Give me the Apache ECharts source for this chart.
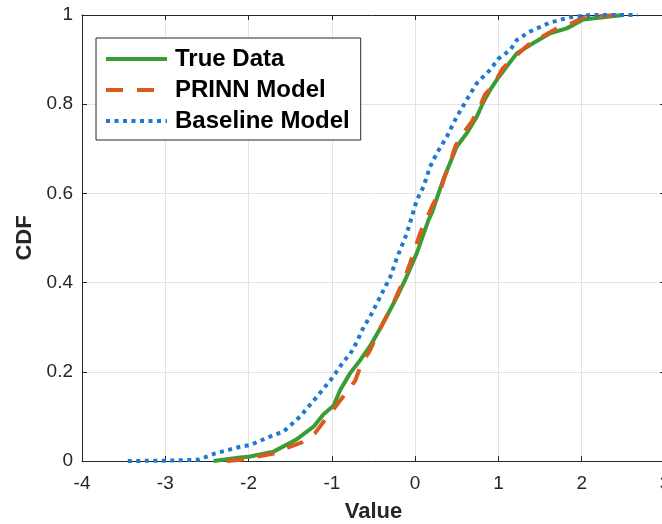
<!DOCTYPE html>
<html>
<head>
<meta charset="utf-8">
<script src="https://cdn.jsdelivr.net/npm/echarts@6/dist/echarts.min.js"></script>
<style>html,body{margin:0;padding:0;background:#fff;}#c{width:662px;height:524px;}</style>
</head>
<body>
<div id="c"></div>
<script>
const seriesNames = ['True Data', 'PRINN Model', 'Baseline Model'];
const xTicks = [-4, -3, -2, -1, 0, 1, 2, 3];
const yTicks = [0, 0.2, 0.4, 0.6, 0.8, 1];

const trueX = [-2.42,-2.10,-1.98,-1.70,-1.42,-1.22,-1.10,-0.98,-0.90,-0.78,-0.66,-0.54,-0.42,-0.30,-0.20,-0.12,0.02,0.16,0.20,0.34,0.50,0.62,0.74,0.82,0.90,1.00,1.22,1.40,1.62,1.82,2.02,2.50];
const trueY = [0,0.008,0.01,0.021,0.049,0.077,0.105,0.124,0.159,0.197,0.226,0.258,0.297,0.339,0.375,0.406,0.466,0.540,0.556,0.632,0.705,0.735,0.772,0.805,0.832,0.860,0.914,0.935,0.959,0.970,0.990,1.0];

const prinnX = [-2.26,-2.08,-1.89,-1.71,-1.53,-1.36,-1.20,-1.10,-0.99,-0.82,-0.72,-0.64,-0.55,-0.45,-0.36,-0.28,-0.20,-0.12,-0.06,0.00,0.06,0.13,0.21,0.30,0.36,0.42,0.48,0.56,0.68,0.76,0.84,0.92,0.96,1.05,1.16,1.38,1.52,1.70,1.84,2.04,2.22,2.45];
const prinnY = [0,0.003,0.010,0.016,0.030,0.042,0.063,0.088,0.114,0.155,0.180,0.220,0.245,0.286,0.318,0.346,0.380,0.413,0.444,0.477,0.511,0.540,0.574,0.604,0.640,0.668,0.705,0.731,0.761,0.787,0.822,0.838,0.850,0.880,0.900,0.937,0.951,0.970,0.978,0.996,0.998,1.0];

const baseX = [-3.45,-2.90,-2.60,-2.40,-2.10,-1.98,-1.70,-1.58,-1.38,-1.18,-1.00,-0.86,-0.78,-0.70,-0.62,-0.54,-0.48,-0.38,-0.30,-0.22,-0.10,0.02,0.10,0.18,0.26,0.38,0.50,0.62,0.74,0.90,1.00,1.14,1.22,1.38,1.62,1.86,2.10,2.67];
const baseY = [0,0.001,0.003,0.017,0.032,0.036,0.058,0.066,0.100,0.144,0.185,0.223,0.240,0.267,0.300,0.324,0.346,0.383,0.412,0.455,0.510,0.585,0.615,0.660,0.690,0.727,0.772,0.810,0.847,0.877,0.902,0.921,0.944,0.963,0.983,0.995,1.0,1.0];

const pairs = (xs, ys) => xs.map((x, i) => [x, ys[i]]);

const axisCol = '#262626';
const gridCol = '#e3e3e3';
const font = 'Liberation Sans, Arial, Helvetica, sans-serif';

const chart = echarts.init(document.getElementById('c'), null, {renderer: 'canvas'});
chart.setOption({
  animation: false,
  backgroundColor: '#ffffff',
  grid: {left: 82, top: 15, width: 583, height: 446, containLabel: false, outerBoundsMode: 'none'},
  legend: {
    orient: 'vertical',
    left: 96, top: 38,
    data: seriesNames,
    backgroundColor: '#ffffff',
    borderColor: axisCol,
    borderWidth: 1,
    padding: [8, 11, 6, 8],
    itemWidth: 61,
    itemHeight: 14,
    itemGap: 5,
    itemStyle: {opacity: 0},
    lineStyle: {width: 4},
    textStyle: {fontFamily: font, fontSize: 24, fontWeight: 'bold', color: '#000', lineHeight: 26, padding: [0, 0, 0, 3]}
  },
  xAxis: [{
    type: 'value', min: xTicks[0], max: xTicks[xTicks.length - 1], interval: 1,
    name: 'Value', nameLocation: 'middle', nameGap: 40,
    nameTextStyle: {fontFamily: font, fontSize: 22, fontWeight: 'bold', color: axisCol},
    axisLine: {show: true, onZero: false, lineStyle: {color: axisCol, width: 1}},
    axisTick: {show: true, inside: true, length: 5, lineStyle: {color: axisCol}},
    axisLabel: {fontFamily: font, fontSize: 19, color: axisCol, margin: 13, showMaxLabel: true},
    splitLine: {show: true, lineStyle: {color: gridCol, width: 1}}
  }, {
    type: 'value', position: 'top', min: xTicks[0], max: xTicks[xTicks.length - 1], interval: 1,
    axisLine: {show: true, onZero: false, lineStyle: {color: axisCol, width: 1}},
    axisTick: {show: true, inside: true, length: 5, lineStyle: {color: axisCol}},
    axisLabel: {show: false},
    splitLine: {show: false}
  }],
  yAxis: [{
    type: 'value', min: yTicks[0], max: yTicks[yTicks.length - 1], interval: 0.2,
    name: 'CDF', nameLocation: 'middle', nameGap: 41,
    nameTextStyle: {fontFamily: font, fontSize: 22, fontWeight: 'bold', color: axisCol},
    axisLine: {show: true, onZero: false, lineStyle: {color: axisCol, width: 1}},
    axisTick: {show: true, inside: true, length: 5, lineStyle: {color: axisCol}},
    axisLabel: {fontFamily: font, fontSize: 19, color: axisCol, margin: 9},
    splitLine: {show: true, lineStyle: {color: gridCol, width: 1}}
  }, {
    type: 'value', position: 'right', min: yTicks[0], max: yTicks[yTicks.length - 1], interval: 0.2,
    axisLine: {show: true, onZero: false, lineStyle: {color: axisCol, width: 1}},
    axisTick: {show: true, inside: true, length: 5, lineStyle: {color: axisCol}},
    axisLabel: {show: false},
    splitLine: {show: false}
  }],
  series: [{
    name: seriesNames[0], type: 'line', data: pairs(trueX, trueY),
    showSymbol: false, symbol: 'none', smooth: false, z: 2,
    lineStyle: {color: '#3a9d34', width: 4, cap: 'butt'},
    itemStyle: {color: '#3a9d34'}
  }, {
    name: seriesNames[1], type: 'line', data: pairs(prinnX, prinnY),
    showSymbol: false, symbol: 'none', smooth: false, z: 3,
    lineStyle: {color: '#dc5a1e', width: 4, type: [17, 14], cap: 'butt'},
    itemStyle: {color: '#dc5a1e'}
  }, {
    name: seriesNames[2], type: 'line', data: pairs(baseX, baseY),
    showSymbol: false, symbol: 'none', smooth: false, z: 4,
    lineStyle: {color: '#1f78d2', width: 4, type: [4, 4.5], cap: 'butt'},
    itemStyle: {color: '#1f78d2'}
  }]
});
</script>
</body>
</html>
